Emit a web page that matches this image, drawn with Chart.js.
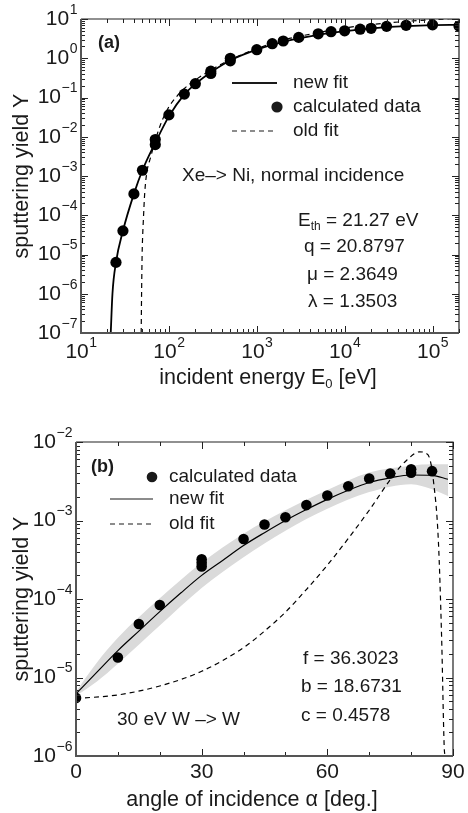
<!DOCTYPE html>
<html>
<head>
<meta charset="utf-8">
<script src="https://cdn.jsdelivr.net/npm/chart.js@4.4.1/dist/chart.umd.min.js"></script>
<style>
  html, body { margin: 0; padding: 0; background: #fff; width: 468px; height: 813px; overflow: hidden; }
  canvas { position: absolute; left: 0; }
  #topChart { top: 0; }
  #botChart { top: 400px; }
</style>
</head>
<body>
<canvas id="topChart" width="468" height="400"></canvas>
<canvas id="botChart" width="468" height="413"></canvas>
<script>
// ---- panel (a): yield vs incident energy, Xe -> Ni ----
const energy = [25, 30, 40, 50, 70, 70, 100, 150, 200, 300, 300, 500, 500, 1000, 1500, 2000, 3000, 5000, 7000, 10000, 15000, 20000, 30000, 50000, 100000, 200000];
const yieldCalcA = [6.3e-6, 4e-5, 3.5e-4, 1.4e-3, 8.5e-3, 6.3e-3, 0.036, 0.122, 0.225, 0.47, 0.41, 1.0, 0.86, 1.65, 2.35, 2.75, 3.4, 4.2, 4.75, 5.0, 5.5, 5.8, 6.5, 6.9, 7.1, 6.6];

const newFitE = [21.8, 22.8, 25, 30, 40, 50, 70, 100, 150, 200, 300, 500, 1000, 2000, 3000, 5000, 10000, 20000, 50000, 100000, 200000];
const newFitA = [1e-7, 1e-6, 6.3e-6, 4e-5, 3.5e-4, 1.4e-3, 7e-3, 0.033, 0.12, 0.22, 0.44, 0.88, 1.65, 2.6, 3.2, 3.95, 4.9, 5.8, 6.6, 7.0, 7.1];

const oldFitE = [48.4, 48.9, 49.6, 50.3, 51.3, 53, 56, 62, 70, 80, 90, 100, 120, 150, 200, 300, 500, 1000, 2000, 5000, 10000, 20000, 50000, 100000, 200000];
const oldFitA = [1e-7, 1e-6, 1e-5, 3e-5, 8e-5, 3.5e-4, 1.2e-3, 3e-3, 8e-3, 0.020, 0.037, 0.058, 0.10, 0.17, 0.28, 0.50, 0.92, 1.75, 2.9, 4.5, 5.9, 7.2, 8.7, 9.6, 10.5];

const energyTicks = [1, 2, 3, 4, 5];          // exponents of 10
const yieldTicksA = [-7, -6, -5, -4, -3, -2, -1, 0, 1];

// ---- panel (b): yield vs angle, 30 eV W -> W ----
const angle = [0, 10, 15, 20, 30, 30, 30, 40, 45, 50, 55, 60, 65, 70, 75, 80, 80, 85];
const yieldCalcB = [5.5e-6, 1.8e-5, 4.8e-5, 8.4e-5, 3.2e-4, 2.9e-4, 2.6e-4, 5.8e-4, 8.9e-4, 1.1e-3, 1.57e-3, 2.08e-3, 2.73e-3, 3.43e-3, 3.97e-3, 4.5e-3, 4.05e-3, 4.25e-3];

const newFitAng = [0, 5, 10, 15, 20, 25, 30, 35, 40, 45, 50, 55, 60, 65, 70, 75, 80, 85, 88.8];
const newFitB = [6.2e-6, 1.17e-5, 2.2e-5, 3.9e-5, 6.9e-5, 1.19e-4, 2.0e-4, 3.1e-4, 4.8e-4, 7.0e-4, 1.0e-3, 1.38e-3, 1.86e-3, 2.43e-3, 3.05e-3, 3.5e-3, 3.8e-3, 3.75e-3, 3.35e-3];

const bandAng = [0, 5, 10, 20, 30, 40, 50, 60, 70, 80, 85, 88.8];
const bandLow = [5.8e-6, 8.9e-6, 1.5e-5, 4.6e-5, 1.38e-4, 3.4e-4, 7.4e-4, 1.41e-3, 2.3e-3, 2.9e-3, 2.5e-3, 2.05e-3];
const bandHigh = [6.6e-6, 1.55e-5, 3.2e-5, 1.02e-4, 2.9e-4, 6.8e-4, 1.35e-3, 2.45e-3, 4.1e-3, 5.0e-3, 5.2e-3, 5.2e-3];

const oldFitAng = [0, 10, 20, 30, 40, 45, 50, 55, 60, 65, 70, 76, 79, 82, 83.5, 84.5, 85.3, 86.5, 87.3, 87.9, 88.1];
const oldFitB = [5.4e-6, 6.0e-6, 7.8e-6, 1.2e-5, 2.4e-5, 3.9e-5, 6.8e-5, 1.32e-4, 2.7e-4, 5.9e-4, 1.35e-3, 3.9e-3, 5.9e-3, 7.5e-3, 7.2e-3, 6.0e-3, 3.3e-3, 5.6e-4, 3e-5, 1.3e-6, 1e-6];

const angleTicks = [0, 30, 60, 90];
const angleMinor = [10, 20, 40, 50, 70, 80];
const yieldTicksB = [-6, -5, -4, -3, -2];

const FONT = '"Liberation Sans", Arial, Helvetica, sans-serif';
const INK = '#1a1a1a';
const TXT = 19;   // annotation / legend text size

function pts(xs, ys) { return xs.map((x, i) => ({ x: x, y: ys[i] })); }

function font(size, bold) { return (bold ? 'bold ' : '') + size + 'px ' + FONT; }

// "10" with a raised exponent; align = 'right' or 'center'
function drawPow(ctx, exp, x, y, align) {
  const e = exp < 0 ? '\u2212' + (-exp) : String(exp);
  ctx.font = font(21);
  const w1 = ctx.measureText('10').width;
  ctx.font = font(14);
  const w2 = ctx.measureText(e).width;
  let x0 = align === 'right' ? x - w1 - w2 : x - (w1 + w2) / 2;
  ctx.textAlign = 'left';
  ctx.textBaseline = 'middle';
  ctx.font = font(21);
  ctx.fillText('10', x0, y);
  ctx.font = font(14);
  ctx.fillText(e, x0 + w1 + 0.5, y - 9);
}

// text with a subscript part: parts = [[text, isSub], ...]
function drawRich(ctx, parts, x, y, size, align) {
  let total = 0;
  const ws = parts.map(p => {
    ctx.font = font(p[1] ? Math.round(size * 0.62) : size);
    const w = ctx.measureText(p[0]).width;
    total += w;
    return w;
  });
  let cx = align === 'center' ? x - total / 2 : x;
  ctx.textAlign = 'left';
  ctx.textBaseline = 'middle';
  parts.forEach((p, i) => {
    ctx.font = font(p[1] ? Math.round(size * 0.62) : size);
    ctx.fillText(p[0], cx, p[1] ? y + 6 : y);
    cx += ws[i];
  });
}

function logMinor(lo, hi, max) {
  const out = [];
  for (let d = lo; d < hi; d++) {
    for (let k = 2; k <= 9; k++) {
      const v = k * Math.pow(10, d);
      if (v <= max) out.push(v);
    }
  }
  return out;
}

// frame, inward ticks on all four sides, tick labels
function framePlugin(cfg) {
  return {
    id: 'frame',
    afterDatasetsDraw(chart) {
      const ctx = chart.ctx, a = chart.chartArea;
      const sx = chart.scales.x, sy = chart.scales.y;
      ctx.save();
      ctx.strokeStyle = '#222';
      ctx.lineWidth = 1;
      const tickX = (vals, len) => vals.forEach(v => {
        const px = Math.round(sx.getPixelForValue(v)) + 0.5;
        ctx.beginPath();
        ctx.moveTo(px, a.bottom); ctx.lineTo(px, a.bottom - len);
        ctx.moveTo(px, a.top); ctx.lineTo(px, a.top + len);
        ctx.stroke();
      });
      const tickY = (vals, len) => vals.forEach(v => {
        const py = Math.round(sy.getPixelForValue(v)) + 0.5;
        ctx.beginPath();
        ctx.moveTo(a.left, py); ctx.lineTo(a.left + len, py);
        ctx.moveTo(a.right, py); ctx.lineTo(a.right - len, py);
        ctx.stroke();
      });
      tickX(cfg.xMajor, 7);
      tickX(cfg.xMinor, 4);
      tickY(cfg.yMajor, 7);
      tickY(cfg.yMinor, 4);

      // box: thin top/right, heavier grey left/bottom
      ctx.lineWidth = 1.2;
      ctx.strokeStyle = '#222';
      ctx.beginPath();
      ctx.moveTo(a.left, a.top); ctx.lineTo(a.right, a.top); ctx.lineTo(a.right, a.bottom);
      ctx.stroke();
      ctx.lineWidth = 2;
      ctx.strokeStyle = '#555';
      ctx.beginPath();
      ctx.moveTo(a.left, a.top); ctx.lineTo(a.left, a.bottom); ctx.lineTo(a.right, a.bottom);
      ctx.stroke();

      ctx.fillStyle = INK;
      // y tick labels
      cfg.yExp.forEach(e => drawPow(ctx, e, a.left - 4, sy.getPixelForValue(Math.pow(10, e)), 'right'));
      // x tick labels
      if (cfg.xExp) {
        cfg.xExp.forEach(e => drawPow(ctx, e, sx.getPixelForValue(Math.pow(10, e)), a.bottom + 19, 'center'));
      } else {
        ctx.font = font(21);
        ctx.textAlign = 'center';
        ctx.textBaseline = 'middle';
        cfg.xMajor.forEach(v => ctx.fillText(String(v), sx.getPixelForValue(v), a.bottom + 16));
      }
      // y title
      ctx.save();
      ctx.translate(22, (a.top + a.bottom) / 2);
      ctx.rotate(-Math.PI / 2);
      ctx.font = font(21.5);
      ctx.textAlign = 'center';
      ctx.textBaseline = 'middle';
      ctx.fillText('sputtering yield Y', 0, 0);
      ctx.restore();

      cfg.decor(ctx);
      ctx.restore();
    }
  };
}

function legendLine(ctx, x1, x2, y, dash, lw) {
  ctx.save();
  ctx.strokeStyle = INK;
  ctx.lineWidth = lw;
  ctx.setLineDash(dash);
  ctx.beginPath(); ctx.moveTo(x1, y); ctx.lineTo(x2, y); ctx.stroke();
  ctx.restore();
}
function legendDot(ctx, x, y, r) {
  ctx.beginPath(); ctx.arc(x, y, r, 0, Math.PI * 2); ctx.fill();
}
function label(ctx, s, x, y, size, bold) {
  ctx.font = font(size || TXT, bold);
  ctx.textAlign = 'left';
  ctx.textBaseline = 'middle';
  ctx.fillText(s, x, y);
}

// ---------- panel (a) ----------
new Chart(document.getElementById('topChart'), {
  type: 'scatter',
  data: {
    datasets: [
      { label: 'calculated data', data: pts(energy, yieldCalcA), pointRadius: 5.6, pointBackgroundColor: '#000', pointBorderWidth: 0, showLine: false, order: 0 },
      { label: 'new fit', data: pts(newFitE, newFitA), showLine: true, borderColor: '#000', borderWidth: 1.8, pointRadius: 0, cubicInterpolationMode: 'monotone', order: 1 },
      { label: 'old fit', data: pts(oldFitE, oldFitA), showLine: true, borderColor: '#000', borderWidth: 1.2, borderDash: [5, 4], pointRadius: 0, cubicInterpolationMode: 'monotone', order: 2 }
    ]
  },
  options: {
    responsive: false,
    animation: false,
    events: [],
    layout: { padding: { left: 81, top: 19, right: 9, bottom: 67 } },
    plugins: { legend: { display: false }, tooltip: { enabled: false } },
    scales: {
      x: { type: 'logarithmic', min: 10, max: 200000, display: false },
      y: { type: 'logarithmic', min: 1e-7, max: 10, display: false }
    }
  },
  plugins: [framePlugin({
    xMajor: energyTicks.map(e => Math.pow(10, e)),
    xMinor: logMinor(1, 6, 200000),
    yMajor: yieldTicksA.map(e => Math.pow(10, e)),
    yMinor: logMinor(-7, 1, 10),
    yExp: yieldTicksA,
    xExp: energyTicks,
    decor(ctx) {
      label(ctx, '(a)', 98, 43, 18, true);
      legendLine(ctx, 232, 277, 83, [], 1.8);
      label(ctx, 'new fit', 293, 83);
      legendDot(ctx, 277, 107, 5.6);
      label(ctx, 'calculated data', 293, 107);
      legendLine(ctx, 232, 277, 131, [5, 4], 1.2);
      label(ctx, 'old fit', 293, 131);
      label(ctx, 'Xe\u2013> Ni, normal incidence', 182, 176);
      drawRich(ctx, [['E', false], ['th', true], [' = 21.27 eV', false]], 298, 221, TXT, 'left');
      label(ctx, 'q = 20.8797', 304, 247);
      label(ctx, '\u03bc = 2.3649', 307, 275);
      label(ctx, '\u03bb = 1.3503', 308, 302);
      drawRich(ctx, [['incident energy E', false], ['0', true], [' [eV]', false]], 268, 378, 21.5, 'center');
    }
  })]
});

// ---------- panel (b) ----------
new Chart(document.getElementById('botChart'), {
  type: 'scatter',
  data: {
    datasets: [
      { label: 'calculated data', data: pts(angle, yieldCalcB), pointRadius: 5.3, pointBackgroundColor: '#000', pointBorderWidth: 0, showLine: false, order: 0 },
      { label: 'new fit', data: pts(newFitAng, newFitB), showLine: true, borderColor: '#000', borderWidth: 1.2, pointRadius: 0, cubicInterpolationMode: 'monotone', order: 1 },
      { label: 'old fit', data: pts(oldFitAng, oldFitB), showLine: true, borderColor: '#000', borderWidth: 1.2, borderDash: [5, 4], pointRadius: 0, cubicInterpolationMode: 'monotone', order: 2 },
      { label: 'band low', data: pts(bandAng, bandLow), showLine: true, borderWidth: 0, borderColor: 'rgba(0,0,0,0)', pointRadius: 0, cubicInterpolationMode: 'monotone', order: 4 },
      { label: 'band high', data: pts(bandAng, bandHigh), showLine: true, borderWidth: 0, borderColor: 'rgba(0,0,0,0)', pointRadius: 0, cubicInterpolationMode: 'monotone', fill: 3, backgroundColor: '#dadada', order: 3 }
    ]
  },
  options: {
    responsive: false,
    animation: false,
    events: [],
    layout: { padding: { left: 76, top: 42, right: 15, bottom: 57 } },
    plugins: { legend: { display: false }, tooltip: { enabled: false } },
    scales: {
      x: { type: 'linear', min: 0, max: 90, display: false },
      y: { type: 'logarithmic', min: 1e-6, max: 1e-2, display: false }
    }
  },
  plugins: [framePlugin({
    xMajor: angleTicks,
    xMinor: angleMinor,
    yMajor: yieldTicksB.map(e => Math.pow(10, e)),
    yMinor: logMinor(-6, -2, 1e-2),
    yExp: yieldTicksB,
    xExp: null,
    decor(ctx) {
      label(ctx, '(b)', 91, 67, 18, true);
      legendDot(ctx, 152, 77, 5.3);
      label(ctx, 'calculated data', 169, 77);
      legendLine(ctx, 110, 153, 99, [], 1.2);
      label(ctx, 'new fit', 169, 99);
      legendLine(ctx, 110, 153, 124, [5, 4], 1.2);
      label(ctx, 'old fit', 169, 124);
      label(ctx, 'f = 36.3023', 303, 259);
      label(ctx, 'b = 18.6731', 301, 287);
      label(ctx, 'c = 0.4578', 301, 316);
      label(ctx, '30 eV W \u2013> W', 117, 320);
      ctx.font = font(21.5);
      ctx.textAlign = 'center';
      ctx.textBaseline = 'middle';
      ctx.fillText('angle of incidence \u03b1 [deg.]', 252, 400);
    }
  })]
});
</script>
</body>
</html>
